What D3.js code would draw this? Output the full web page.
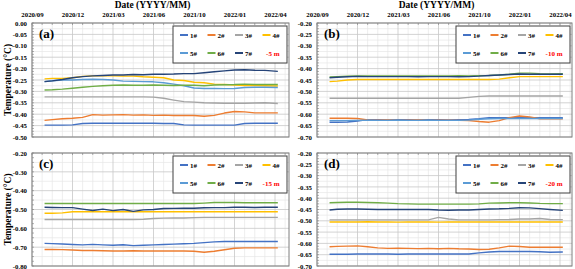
<!DOCTYPE html>
<html>
<head>
<meta charset="utf-8">
<script src="https://cdn.jsdelivr.net/npm/d3@7"></script>
<style>
  body { margin: 0; background: #fff; }
  svg { display: block; }
  text { font-family: "Liberation Serif", "Times New Roman", serif; font-weight: bold; }
</style>
</head>
<body>
<div id="chart"></div>
<script>
// tick labels (equally spaced on the axis)
const xTickLabels = ["2020/09", "2020/12", "2021/03", "2021/06", "2021/10", "2022/01", "2022/04"];
// sample positions, in tick units from 2020/09
const tPos = [0.31, 0.5, 0.75, 1.0, 1.25, 1.5, 1.75, 2.0, 2.25, 2.5, 2.75, 3.0,
              3.25, 3.5, 3.75, 4.0, 4.25, 4.5, 4.75, 5.0, 5.25, 5.5, 5.75, 6.07];
const seriesNames = ["1#", "2#", "3#", "4#", "5#", "6#", "7#"];
const seriesColors = ["#4472C4", "#ED7D31", "#A5A5A5", "#FFC000", "#5B9BD5", "#70AD47", "#264478"];

// (a) -5 m
const a1 = [-0.448,-0.448,-0.448,-0.447,-0.441,-0.440,-0.440,-0.440,-0.440,-0.440,-0.440,-0.440,-0.441,-0.441,-0.447,-0.448,-0.448,-0.448,-0.448,-0.448,-0.441,-0.440,-0.440,-0.440];
const a2 = [-0.427,-0.424,-0.420,-0.418,-0.414,-0.402,-0.404,-0.403,-0.402,-0.404,-0.403,-0.405,-0.404,-0.406,-0.405,-0.406,-0.409,-0.405,-0.395,-0.388,-0.390,-0.394,-0.394,-0.394];
const a3 = [-0.324,-0.324,-0.324,-0.324,-0.324,-0.324,-0.324,-0.324,-0.324,-0.324,-0.324,-0.325,-0.330,-0.338,-0.345,-0.347,-0.350,-0.351,-0.352,-0.352,-0.352,-0.351,-0.350,-0.353];
const a4 = [-0.245,-0.243,-0.243,-0.240,-0.234,-0.232,-0.232,-0.232,-0.233,-0.233,-0.236,-0.238,-0.240,-0.250,-0.252,-0.260,-0.262,-0.268,-0.270,-0.272,-0.274,-0.274,-0.275,-0.276];
const a5 = [-0.257,-0.253,-0.250,-0.250,-0.248,-0.247,-0.248,-0.250,-0.255,-0.256,-0.257,-0.258,-0.262,-0.268,-0.275,-0.285,-0.287,-0.287,-0.288,-0.287,-0.283,-0.282,-0.282,-0.283];
const a6 = [-0.294,-0.293,-0.290,-0.286,-0.282,-0.278,-0.275,-0.273,-0.272,-0.273,-0.273,-0.272,-0.273,-0.274,-0.273,-0.273,-0.275,-0.272,-0.271,-0.270,-0.268,-0.270,-0.270,-0.270];
const a7 = [-0.257,-0.254,-0.248,-0.240,-0.235,-0.232,-0.230,-0.228,-0.228,-0.226,-0.227,-0.225,-0.225,-0.224,-0.222,-0.222,-0.218,-0.214,-0.210,-0.206,-0.205,-0.207,-0.208,-0.212];

// (b) -10 m
const b1 = [-0.635,-0.635,-0.634,-0.630,-0.624,-0.624,-0.625,-0.624,-0.624,-0.625,-0.624,-0.624,-0.625,-0.624,-0.623,-0.620,-0.615,-0.615,-0.615,-0.615,-0.615,-0.615,-0.615,-0.615];
const b2 = [-0.618,-0.618,-0.618,-0.619,-0.625,-0.626,-0.625,-0.627,-0.626,-0.625,-0.627,-0.626,-0.626,-0.627,-0.628,-0.632,-0.635,-0.628,-0.615,-0.608,-0.612,-0.620,-0.620,-0.620];
const b3 = [-0.530,-0.530,-0.530,-0.530,-0.530,-0.530,-0.530,-0.530,-0.530,-0.530,-0.530,-0.530,-0.530,-0.530,-0.526,-0.522,-0.520,-0.520,-0.520,-0.520,-0.520,-0.520,-0.520,-0.520];
const b4 = [-0.457,-0.455,-0.450,-0.448,-0.448,-0.448,-0.448,-0.448,-0.448,-0.448,-0.448,-0.448,-0.448,-0.448,-0.448,-0.448,-0.448,-0.446,-0.440,-0.435,-0.435,-0.435,-0.435,-0.435];
const b5 = [-0.628,-0.628,-0.628,-0.627,-0.626,-0.627,-0.627,-0.626,-0.627,-0.627,-0.626,-0.627,-0.627,-0.627,-0.626,-0.622,-0.620,-0.619,-0.619,-0.619,-0.619,-0.619,-0.619,-0.619];
const b6 = [-0.437,-0.435,-0.433,-0.432,-0.432,-0.432,-0.432,-0.432,-0.432,-0.432,-0.432,-0.432,-0.432,-0.431,-0.432,-0.431,-0.430,-0.428,-0.425,-0.420,-0.420,-0.422,-0.423,-0.422];
const b7 = [-0.440,-0.438,-0.436,-0.434,-0.435,-0.435,-0.435,-0.435,-0.435,-0.436,-0.435,-0.435,-0.435,-0.436,-0.435,-0.433,-0.430,-0.428,-0.426,-0.424,-0.425,-0.425,-0.425,-0.425];

// (c) -15 m
const c1 = [-0.680,-0.681,-0.683,-0.686,-0.688,-0.685,-0.688,-0.690,-0.687,-0.692,-0.690,-0.688,-0.686,-0.684,-0.682,-0.680,-0.676,-0.672,-0.670,-0.670,-0.669,-0.670,-0.670,-0.670];
const c2 = [-0.712,-0.712,-0.713,-0.715,-0.718,-0.718,-0.719,-0.720,-0.720,-0.719,-0.720,-0.720,-0.720,-0.720,-0.720,-0.722,-0.727,-0.722,-0.714,-0.706,-0.704,-0.704,-0.704,-0.704];
const c3 = [-0.553,-0.553,-0.553,-0.553,-0.553,-0.553,-0.553,-0.553,-0.553,-0.553,-0.552,-0.548,-0.546,-0.545,-0.545,-0.543,-0.542,-0.542,-0.542,-0.542,-0.542,-0.542,-0.542,-0.542];
const c4 = [-0.520,-0.520,-0.518,-0.512,-0.512,-0.512,-0.512,-0.512,-0.512,-0.512,-0.512,-0.512,-0.512,-0.512,-0.512,-0.512,-0.512,-0.512,-0.512,-0.512,-0.512,-0.512,-0.512,-0.512];
const c5 = [];
const c6 = [-0.468,-0.468,-0.468,-0.468,-0.468,-0.468,-0.468,-0.468,-0.468,-0.468,-0.468,-0.468,-0.468,-0.468,-0.468,-0.468,-0.466,-0.463,-0.462,-0.463,-0.464,-0.464,-0.464,-0.464];
const c7 = [-0.488,-0.489,-0.490,-0.490,-0.498,-0.505,-0.498,-0.506,-0.500,-0.510,-0.502,-0.500,-0.495,-0.494,-0.493,-0.493,-0.491,-0.490,-0.490,-0.488,-0.488,-0.489,-0.488,-0.488];

// (d) -20 m
const d1 = [-0.648,-0.648,-0.648,-0.647,-0.647,-0.647,-0.647,-0.648,-0.647,-0.647,-0.647,-0.647,-0.647,-0.647,-0.647,-0.642,-0.638,-0.636,-0.636,-0.636,-0.636,-0.637,-0.639,-0.638];
const d2 = [-0.615,-0.613,-0.612,-0.611,-0.615,-0.620,-0.622,-0.621,-0.622,-0.623,-0.622,-0.624,-0.622,-0.624,-0.625,-0.627,-0.626,-0.620,-0.612,-0.614,-0.617,-0.617,-0.617,-0.617];
const d3v = [-0.496,-0.496,-0.496,-0.496,-0.496,-0.496,-0.496,-0.496,-0.496,-0.496,-0.496,-0.485,-0.492,-0.496,-0.496,-0.496,-0.496,-0.495,-0.494,-0.492,-0.492,-0.490,-0.494,-0.495];
const d4 = [-0.505,-0.505,-0.505,-0.505,-0.504,-0.505,-0.505,-0.506,-0.505,-0.505,-0.505,-0.506,-0.505,-0.505,-0.505,-0.505,-0.505,-0.505,-0.505,-0.505,-0.505,-0.505,-0.505,-0.505];
const d5 = [];
const d6 = [-0.420,-0.419,-0.418,-0.418,-0.419,-0.420,-0.422,-0.424,-0.425,-0.426,-0.426,-0.426,-0.426,-0.426,-0.426,-0.425,-0.422,-0.421,-0.420,-0.420,-0.421,-0.423,-0.424,-0.424];
const d7 = [-0.452,-0.449,-0.448,-0.448,-0.449,-0.450,-0.450,-0.450,-0.450,-0.450,-0.450,-0.452,-0.453,-0.452,-0.452,-0.450,-0.448,-0.447,-0.445,-0.442,-0.443,-0.446,-0.450,-0.454];

const panels = [
  {tag: "(a)", depth: "-5 m",  series: [a1, a2, a3, a4, a5, a6, a7], yMin: -0.50, yMax: 0.00, yStep: 0.05, left: 32,  top: 23,  right: 289, bottom: 137, topAxis: true,  yTitle: true},
  {tag: "(b)", depth: "-10 m", series: [b1, b2, b3, b4, b5, b6, b7], yMin: -0.70, yMax: -0.20, yStep: 0.05, left: 317, top: 23,  right: 572, bottom: 137, topAxis: true,  yTitle: false},
  {tag: "(c)", depth: "-15 m", series: [c1, c2, c3, c4, c5, c6, c7], yMin: -0.80, yMax: -0.20, yStep: 0.10, left: 32,  top: 153, right: 289, bottom: 266, topAxis: false, yTitle: true},
  {tag: "(d)", depth: "-20 m", series: [d1, d2, d3v, d4, d5, d6, d7], yMin: -0.70, yMax: -0.20, yStep: 0.05, left: 317, top: 153, right: 572, bottom: 266, topAxis: false, yTitle: false}
];

var width = 575, height = 269;
var svg = d3.select("#chart").append("svg")
  .attr("width", width)
  .attr("height", height);

panels.forEach(function(p) {
  var xMax = (p.right - p.left) / 40.5;
  var x = d3.scaleLinear().domain([0, xMax]).range([p.left, p.right]);
  var y = d3.scaleLinear().domain([p.yMin, p.yMax]).range([p.bottom, p.top]);
  var nY = Math.round((p.yMax - p.yMin) / p.yStep);
  var yTicks = d3.range(nY + 1).map(i => p.yMin + i * p.yStep);
  var yMinor = d3.range(nY).map(i => p.yMin + (i + 0.5) * p.yStep);
  var xMajor = d3.range(xTickLabels.length);
  var xMinor = d3.range(0, xMax, 0.25).filter(v => Math.abs(v - Math.round(v)) > 0.01);

  var g = svg.append("g");

  // minor grid
  g.selectAll(".hmin").data(yMinor).enter().append("line")
    .attr("x1", p.left).attr("x2", p.right)
    .attr("y1", d => y(d)).attr("y2", d => y(d))
    .attr("stroke", "#e6e6e6").attr("stroke-width", 0.7);
  g.selectAll(".vmin").data(xMinor).enter().append("line")
    .attr("x1", d => x(d)).attr("x2", d => x(d))
    .attr("y1", p.top).attr("y2", p.bottom)
    .attr("stroke", "#e6e6e6").attr("stroke-width", 0.7);
  // major grid
  g.selectAll(".hmaj").data(yTicks).enter().append("line")
    .attr("x1", p.left).attr("x2", p.right)
    .attr("y1", d => y(d)).attr("y2", d => y(d))
    .attr("stroke", "#c8c8c8").attr("stroke-width", 0.8);
  g.selectAll(".vmaj").data(xMajor).enter().append("line")
    .attr("x1", d => x(d)).attr("x2", d => x(d))
    .attr("y1", p.top).attr("y2", p.bottom)
    .attr("stroke", "#c8c8c8").attr("stroke-width", 0.8);

  // y axis
  var yAxis = d3.axisLeft(y).tickValues(yTicks).tickSize(0).tickPadding(5)
    .tickFormat(d => d.toFixed(2));
  var ya = g.append("g").attr("transform", "translate(" + p.left + ",0)").call(yAxis);
  ya.select(".domain").remove();
  ya.selectAll("text").style("font-size", "6.8px").attr("fill", "#000");

  // minor ticks inward on left and top
  var yTk = d3.range(nY * 4 + 1).map(i => p.yMin + i * p.yStep / 4);
  g.selectAll(".ytk").data(yTk).enter().append("line")
    .attr("x1", p.left).attr("x2", p.left + 2)
    .attr("y1", d => y(d)).attr("y2", d => y(d))
    .attr("stroke", "#808080").attr("stroke-width", 0.6);
  g.selectAll(".xtk").data(d3.range(0, xMax, 0.25)).enter().append("line")
    .attr("x1", d => x(d)).attr("x2", d => x(d))
    .attr("y1", p.top).attr("y2", p.top + 2)
    .attr("stroke", "#808080").attr("stroke-width", 0.6);

  // top x axis labels
  if (p.topAxis) {
    var xAxis = d3.axisTop(x).tickValues(xMajor).tickSize(0).tickPadding(6)
      .tickFormat(i => xTickLabels[i]);
    var xa = g.append("g").attr("transform", "translate(0," + p.top + ")").call(xAxis);
    xa.select(".domain").remove();
    xa.selectAll("text").style("font-size", "6.8px").attr("fill", "#000");
    g.append("text")
      .attr("x", (p.left + p.right) / 2 - 8)
      .attr("y", 8)
      .attr("text-anchor", "middle")
      .style("font-size", "9.5px")
      .text("Date (YYYY/MM)");
  }

  if (p.yTitle) {
    g.append("text")
      .attr("transform", "translate(11," + ((p.top + p.bottom) / 2) + ") rotate(-90)")
      .attr("text-anchor", "middle")
      .style("font-size", "9.5px")
      .text("Temperature (\u00B0C)");
  }

  // series
  var line = d3.line().x((d, i) => x(tPos[i])).y(d => y(d));
  p.series.forEach(function(vals, k) {
    if (!vals.length) return;
    g.append("path")
      .datum(vals)
      .attr("d", line)
      .attr("fill", "none")
      .attr("stroke", seriesColors[k])
      .attr("stroke-width", 1.4)
      .attr("stroke-linejoin", "round");
  });

  // border
  g.append("rect")
    .attr("x", p.left).attr("y", p.top)
    .attr("width", p.right - p.left).attr("height", p.bottom - p.top)
    .attr("fill", "none").attr("stroke", "#7f7f7f").attr("stroke-width", 1);

  // panel tag
  g.append("text")
    .attr("x", p.left + 7).attr("y", p.top + 15)
    .style("font-size", "13px")
    .text(p.tag);

  // legend
  var lx = p.right - 116, ly = p.top + 3;
  var lg = g.append("g").attr("transform", "translate(" + lx + "," + ly + ")");
  lg.append("rect")
    .attr("width", 114).attr("height", 37)
    .attr("fill", "#fff").attr("stroke", "#404040").attr("stroke-width", 1);
  seriesNames.forEach(function(name, k) {
    var col = k % 4, row = Math.floor(k / 4);
    var ox = 7 + col * 27.5, oy = 9 + row * 18;
    lg.append("line")
      .attr("x1", ox).attr("x2", ox + 8)
      .attr("y1", oy).attr("y2", oy)
      .attr("stroke", seriesColors[k]).attr("stroke-width", 2);
    lg.append("text")
      .attr("x", ox + 17).attr("y", oy + 2.5)
      .attr("text-anchor", "end")
      .style("font-size", "7px")
      .text(name);
  });
  lg.append("text")
    .attr("x", 7 + 3 * 27.5 + 17).attr("y", 9 + 18 + 2.5)
    .attr("text-anchor", "end")
    .attr("fill", "#ff0000")
    .style("font-size", "7px")
    .text(p.depth);
});
</script>
</body>
</html>
